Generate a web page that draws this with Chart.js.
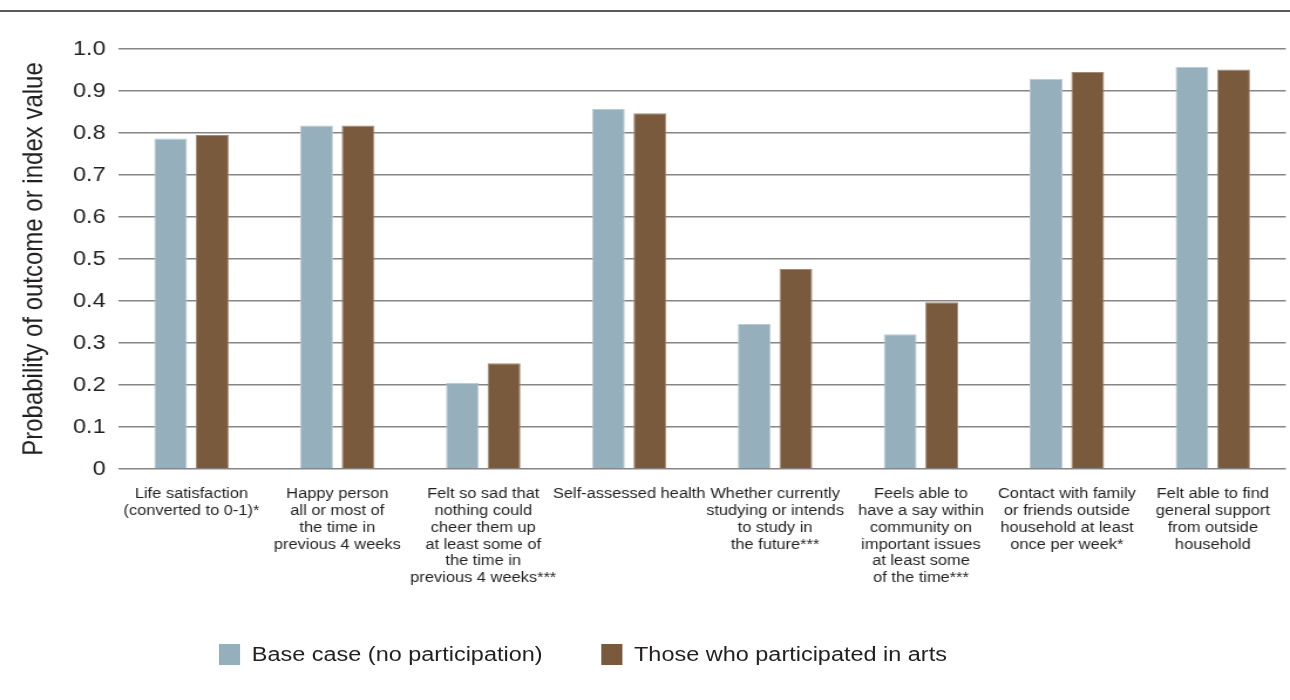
<!DOCTYPE html>
<html>
<head>
<meta charset="utf-8">
<script src="https://cdn.jsdelivr.net/npm/chart.js@4/dist/chart.umd.min.js"></script>
<style>
  body { margin: 0; background: #fff; font-family: "Liberation Sans", Arial, sans-serif; }
  #wrap { position: relative; width: 1290px; height: 700px; overflow: hidden; }
  #rule { position: absolute; left: 0; top: 10px; width: 1290px; height: 2px; background: #5a5a5a; }
  #artsChart { position: absolute; left: 0; top: 0; }
  #legend { position: absolute; top: 643px; left: 219px; display: flex; align-items: center;
            font-size: 20px; color: #231f20; transform: scaleX(1.1727); transform-origin: left center; }
  #legend span.box { display: inline-block; width: 18px; height: 21px; margin-right: 10px; }
  #legend span.item { display: flex; align-items: center; margin-right: 50px; }
</style>
</head>
<body>
<div id="wrap">
  <div id="rule"></div>
  <!-- the source picture is a bit wider than tall, so the canvas is stretched sideways -->
  <canvas id="artsChart" width="1100" height="700" style="width:1290px;height:700px"></canvas>
  <div id="legend"></div>
</div>
<script>
// chart data

const categories = [
  ["Life satisfaction", "(converted to 0-1)*"],
  ["Happy person", "all or most of", "the time in", "previous 4 weeks"],
  ["Felt so sad that", "nothing could", "cheer them up", "at least some of", "the time in", "previous 4 weeks***"],
  ["Self-assessed health"],
  ["Whether currently", "studying or intends", "to study in", "the future***"],
  ["Feels able to", "have a say within", "community on", "important issues", "at least some", "of the time***"],
  ["Contact with family", "or friends outside", "household at least", "once per week*"],
  ["Felt able to find", "general support", "from outside", "household"],
];
const seriesNames = ["Base case (no participation)", "Those who participated in arts"];
const baseCase = [0.787, 0.818, 0.205, 0.857, 0.345, 0.321, 0.929, 0.957];
const participated = [0.795, 0.818, 0.252, 0.847, 0.476, 0.397, 0.945, 0.951];
const yTicks = [0, 0.1, 0.2, 0.3, 0.4, 0.5, 0.6, 0.7, 0.8, 0.9, 1.0];

const colors = ["#95afbd", "#7a5a3d"];
const borders = ["#b9cbd4", "#a28a74"];

const ctx = document.getElementById("artsChart");
new Chart(ctx, {
  type: "bar",
  data: {
    labels: categories,
    datasets: [
      {
        label: seriesNames[0],
        data: baseCase,
        backgroundColor: colors[0],
        borderColor: borders[0],
        borderWidth: 1,
        categoryPercentage: 0.57,
        barPercentage: 0.79,
      },
      {
        label: seriesNames[1],
        data: participated,
        backgroundColor: colors[1],
        borderColor: borders[1],
        borderWidth: 1,
        categoryPercentage: 0.57,
        barPercentage: 0.79,
      },
    ],
  },
  options: {
    responsive: false,
    animation: false,
    layout: { padding: { top: 49, right: 3, left: 0, bottom: 0 } },
    plugins: {
      legend: { display: false },
      tooltip: { enabled: false },
    },
    scales: {
      x: {
        grid: { display: false, drawTicks: false },
        border: { display: false },
        ticks: {
          autoSkip: false,
          maxRotation: 0,
          padding: 17,
          color: "#231f20",
          font: { family: "Liberation Sans", size: 14, lineHeight: 1.2 },
        },
        afterFit: (scale) => { scale.height = 231; },
      },
      y: {
        min: 0,
        max: 1,
        afterBuildTicks: (scale) => { scale.ticks = yTicks.map((v) => ({ value: v })); },
        grid: { color: "#858585", lineWidth: 1.5, drawTicks: false },
        border: { display: false },
        ticks: {
          padding: 11,
          color: "#231f20",
          font: { family: "Liberation Sans", size: 20 },
          callback: (v) => (v === 0 ? "0" : v.toFixed(1)),
        },
        title: {
          display: true,
          text: "Probability of outcome or index value",
          color: "#231f20",
          font: { family: "Liberation Sans", size: 24 },
          padding: { top: 15, bottom: 0 },
        },
        afterFit: (scale) => { scale.width = 101; },
      },
    },
  },
});

// html legend
const legend = document.getElementById("legend");
seriesNames.forEach((name, i) => {
  const item = document.createElement("span");
  item.className = "item";
  item.innerHTML = '<span class="box" style="background:' + colors[i] + '"></span>' + name;
  legend.appendChild(item);
});
</script>
</body>
</html>
